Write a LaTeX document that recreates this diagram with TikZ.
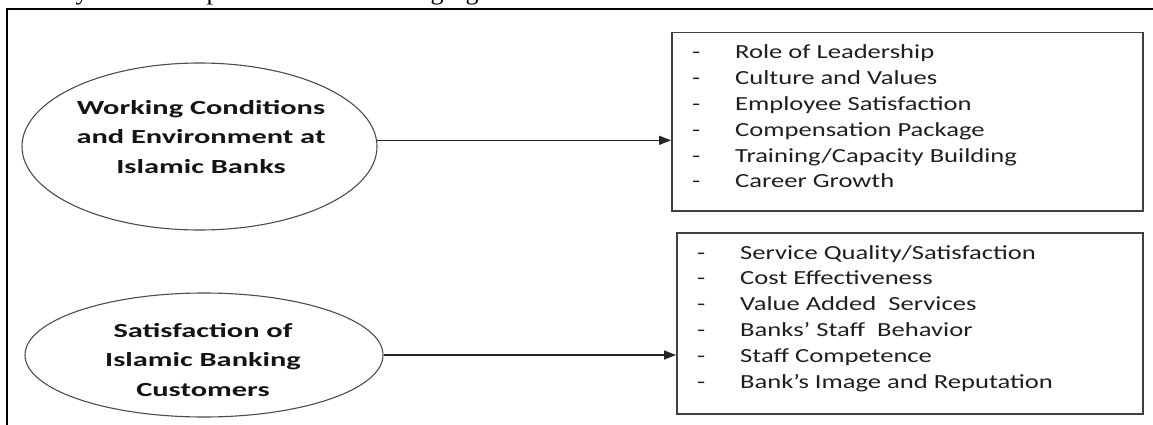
\documentclass[tikz,border=0pt]{standalone}
\usepackage{fontspec}
\setmainfont{Carlito}
\newfontfamily\listfamily{Carlito}[FakeStretch=1.33]
\newfontfamily\ovalfamily{Carlito}[FakeStretch=1.52]
\newfontfamily\bodyserif{Liberation Serif}
\usetikzlibrary{arrows.meta,shapes.geometric}

\tikzset{
  frameline/.style={line width=1.6pt, black},
  oval/.style={ellipse, draw=black!70, line width=1.1pt, inner sep=0pt},
  listbox/.style={rectangle, draw=black!75, line width=1.5pt, inner sep=0pt, anchor=north west},
  ovaltext/.style={inner sep=0pt, align=center, text=black!92,
    font=\ovalfamily\bfseries\fontsize{20}{29.5}\selectfont},
  listtext/.style={inner sep=0pt, anchor=base west, text=black!88,
    font=\listfamily\fontsize{20}{25.8}\selectfont},
  fragment/.style={inner sep=0pt, anchor=base, font=\bodyserif\fontsize{26}{30}\selectfont},
  link/.style={line width=1.5pt, black!85, -{Triangle[length=12pt,width=9pt]}},
}

\begin{document}
\begin{tikzpicture}[x=1pt,y=-1pt]
  \useasboundingbox[fill=white] (0,0) rectangle (1153,425);

  % descenders of the text line above the figure
  \node[fragment] (fy) at (82,0) {y};
  \node[fragment] (fp) at (213,0) {p};
  \node[fragment] (fg1) at (437,0) {g};
  \node[fragment] (fg2) at (472,0) {g};

  % open frame around the figure
  \coordinate (frTR) at (1160,9);
  \coordinate (frTL) at (7,9);
  \coordinate (frBL) at (7,432);
  \draw[frameline] (frTR) -- (frTL) -- (frBL);

  % ovals
  \node[oval, minimum width=355pt, minimum height=167pt] (e1) at (199.5,146.5) {};
  \node[ovaltext] (t1) at (201,137) {Working Conditions\\and Environment at\\Islamic Banks};

  \node[oval, minimum width=358pt, minimum height=124pt] (e2) at (204,355) {};
  \node[ovaltext] (t2) at (203,360) {Satisfaction of\\Islamic Banking\\Customers};

  % boxes
  \node[listbox, minimum width=471pt, minimum height=178pt] (b1) at (671,32) {};
  \node[listtext] (l1) at (692,59) {%
    \begin{tabular}[t]{@{}p{43pt}@{}l@{}}
      - & Role of Leadership\\
      - & Culture and Values\\
      - & Employee Satisfaction\\
      - & Compensation Package\\
      - & Training/Capacity Building\\
      - & Career Growth
    \end{tabular}};

  \node[listbox, minimum width=466pt, minimum height=181pt] (b2) at (676,232) {};
  \node[listtext] (l2) at (697,259) {%
    \begin{tabular}[t]{@{}p{43pt}@{}l@{}}
      - & Service Quality/Satisfaction\\
      - & Cost Effectiveness\\
      - & Value Added\ \ Services\\
      - & Banks’ Staff\ \ Behavior\\
      - & Staff Competence\\
      - & Bank’s Image and Reputation
    \end{tabular}};

  % connectors
  \draw[link] (e1.2) -- (e1.2 -| b1.west);
  \draw[link] (e2.east) -- (e2.east -| b2.west);
\end{tikzpicture}
\end{document}
